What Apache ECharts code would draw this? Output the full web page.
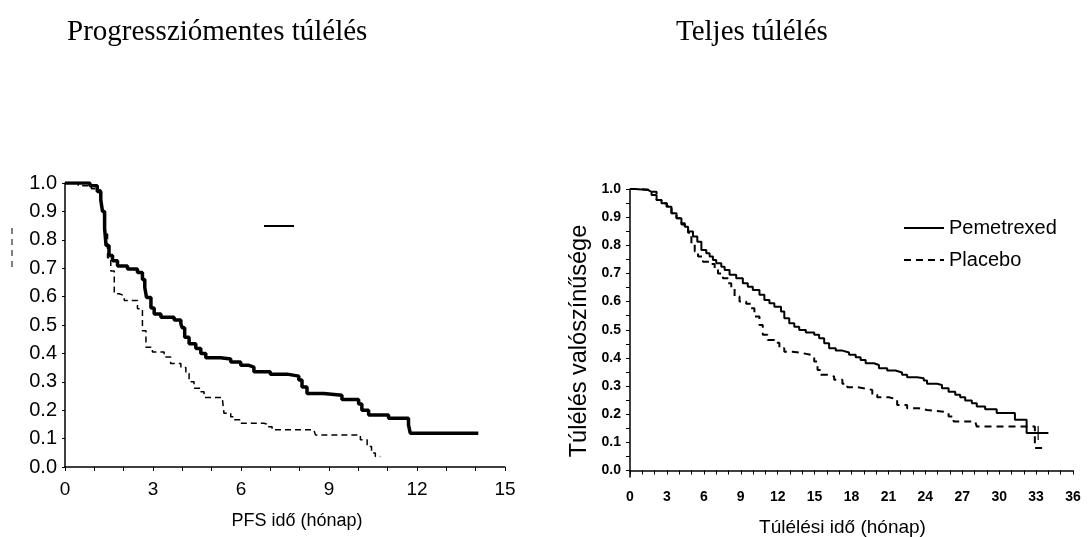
<!DOCTYPE html>
<html>
<head>
<meta charset="utf-8">
<script src="https://cdn.jsdelivr.net/npm/echarts@6/dist/echarts.min.js"></script>
<style>
  html, body { margin: 0; padding: 0; background: #fff; }
  #chart { width: 1091px; height: 537px; }
</style>
</head>
<body>
<div id="chart"></div>
<script>
// Kaplan-Meier curves: [months, survival probability]
var pfsPemetrexed = [
  [0, 1.0], [0.85, 0.99], [1.1, 0.97], [1.22, 0.94], [1.28, 0.90], [1.35, 0.84],
  [1.40, 0.78], [1.50, 0.745], [1.62, 0.726], [1.79, 0.708], [2.13, 0.697],
  [2.47, 0.685], [2.64, 0.66], [2.72, 0.632], [2.78, 0.597], [2.93, 0.56],
  [3.04, 0.539], [3.27, 0.527], [3.72, 0.518], [3.95, 0.504], [4.0, 0.49],
  [4.08, 0.457], [4.23, 0.434], [4.46, 0.417], [4.63, 0.40], [4.8, 0.385],
  [5.3, 0.38], [5.65, 0.37], [5.99, 0.358], [6.27, 0.352], [6.44, 0.335],
  [7.0, 0.327], [7.57, 0.32], [7.97, 0.306], [8.08, 0.282], [8.25, 0.259],
  [8.82, 0.253], [9.44, 0.238], [10.01, 0.222], [10.12, 0.20], [10.35, 0.183],
  [11.03, 0.172], [11.71, 0.148], [11.77, 0.119], [14.09, 0.119]
];
var pfsPlacebo = [
  [0, 1.0], [0.45, 0.99], [0.9, 0.98], [1.1, 0.975], [1.22, 0.95], [1.28, 0.90],
  [1.36, 0.82], [1.45, 0.737], [1.56, 0.69], [1.68, 0.61], [1.85, 0.603],
  [2.02, 0.586], [2.47, 0.557], [2.64, 0.48], [2.76, 0.422], [2.98, 0.405],
  [3.38, 0.387], [3.6, 0.364], [3.95, 0.35], [4.12, 0.329], [4.23, 0.30],
  [4.4, 0.277], [4.63, 0.265], [4.74, 0.245], [5.36, 0.242], [5.42, 0.189],
  [5.65, 0.177], [5.76, 0.166], [5.99, 0.154], [6.78, 0.151], [6.89, 0.142],
  [7.06, 0.131], [8.48, 0.128], [8.54, 0.113], [10.07, 0.096], [10.3, 0.072],
  [10.45, 0.049], [10.58, 0.037], [10.75, 0.037]
];
var osPemetrexed = [
  [0, 1.0], [0.4, 0.998], [0.94, 0.996], [1.48, 0.99], [1.75, 0.979], [2.16, 0.961],
  [2.56, 0.949], [2.97, 0.937], [3.37, 0.914], [3.78, 0.896], [4.18, 0.878],
  [4.45, 0.866], [4.72, 0.849], [5.12, 0.831], [5.47, 0.813], [5.8, 0.783],
  [6.2, 0.772], [6.47, 0.76], [6.74, 0.748], [7.01, 0.736], [7.42, 0.724],
  [7.69, 0.712], [8.09, 0.695], [8.63, 0.683], [9.17, 0.665], [9.57, 0.653],
  [9.98, 0.641], [10.52, 0.624], [10.92, 0.606], [11.33, 0.594], [11.73, 0.582],
  [12.27, 0.565], [12.54, 0.541], [12.94, 0.523], [13.35, 0.511], [13.75, 0.499],
  [14.29, 0.49], [14.97, 0.482], [15.37, 0.47], [15.78, 0.452], [16.18, 0.434],
  [16.72, 0.426], [17.26, 0.419], [17.8, 0.411], [18.34, 0.402], [18.74, 0.393],
  [19.15, 0.381], [19.82, 0.375], [20.23, 0.363], [20.9, 0.355], [21.57, 0.348],
  [22.11, 0.34], [22.52, 0.331], [23.33, 0.328], [23.87, 0.32], [24.14, 0.308],
  [24.95, 0.304], [25.35, 0.292], [25.89, 0.28], [26.43, 0.269], [26.83, 0.26],
  [27.24, 0.249], [27.78, 0.239], [28.18, 0.227], [28.86, 0.218], [29.8, 0.204],
  [31.28, 0.18], [32.23, 0.133], [34.0, 0.133]
];
var osPlacebo = [
  [0, 1.0], [0.4, 0.998], [1.48, 0.99], [2.16, 0.961], [2.56, 0.949], [3.0, 0.94],
  [3.37, 0.914], [3.78, 0.896], [4.18, 0.874], [4.45, 0.86], [4.72, 0.845],
  [4.99, 0.807], [5.26, 0.778], [5.53, 0.76], [5.93, 0.742], [6.47, 0.734],
  [6.88, 0.718], [7.15, 0.70], [7.55, 0.683], [7.96, 0.665], [8.23, 0.647],
  [8.5, 0.618], [8.9, 0.60], [9.44, 0.592], [9.84, 0.576], [10.11, 0.547],
  [10.52, 0.517], [10.79, 0.482], [11.19, 0.464], [11.73, 0.454], [12.14, 0.434],
  [12.54, 0.422], [13.21, 0.417], [14.02, 0.411], [14.7, 0.405], [14.97, 0.387],
  [15.24, 0.357], [15.51, 0.34], [16.05, 0.334], [16.59, 0.322], [17.26, 0.308],
  [17.66, 0.296], [18.47, 0.289], [19.42, 0.286], [19.69, 0.269], [20.09, 0.26],
  [21.04, 0.253], [21.71, 0.233], [22.52, 0.221], [23.46, 0.215], [24.14, 0.209],
  [25.49, 0.204], [25.89, 0.192], [26.3, 0.174], [28.05, 0.168], [28.18, 0.156],
  [32.9, 0.08], [33.5, 0.08]
];
var osCensored = [[33.17, 0.133]];

var pfsXTicks = [0, 3, 6, 9, 12, 15];
var osXTicks = [0, 3, 6, 9, 12, 15, 18, 21, 24, 27, 30, 33, 36];
var osYLabels = [0, 0.1, 0.2, 0.3, 0.4, 0.5, 0.6, 0.7, 0.8, 0.9, 1.0];
var osYTicks = [0, 0.05, 0.1, 0.15, 0.2, 0.25, 0.3, 0.35, 0.4, 0.45, 0.5,
                0.55, 0.6, 0.65, 0.7, 0.75, 0.8, 0.85, 0.9, 0.95, 1.0];

var SANS = "'Liberation Sans', Arial, sans-serif";
var SERIF = "'Liberation Serif', 'Times New Roman', serif";

var chart = echarts.init(document.getElementById("chart"), null, { renderer: "canvas" });

var axisLine = { show: true, lineStyle: { color: "#000", width: 1.5 } };

chart.setOption({
  animation: false,
  backgroundColor: "#fff",
  title: [
    { text: "Progressziómentes túlélés", left: 62, top: 13,
      textStyle: { fontFamily: SERIF, fontSize: 29, fontWeight: "normal", color: "#000" } },
    { text: "Teljes túlélés", left: 671, top: 13,
      textStyle: { fontFamily: SERIF, fontSize: 29, fontWeight: "normal", color: "#000" } }
  ],
  legend: [
    { // leftover legend stroke in the PFS panel
      data: ["PFS Pemetrexed"], left: 259, top: 220, icon: "rect",
      itemWidth: 30, itemHeight: 2, formatter: function () { return ""; },
      itemStyle: { color: "#000" }, selectedMode: false
    },
    {
      data: ["Pemetrexed", "Placebo"], orient: "vertical", left: 898, top: 213,
      itemWidth: 40, itemHeight: 14, itemGap: 12, selectedMode: false,
      itemStyle: { opacity: 0 },
      textStyle: { fontFamily: SANS, fontSize: 20, color: "#000" }
    }
  ],
  grid: [
    { left: 65, right: 586, top: 183, bottom: 70, outerBoundsMode: "none" },
    { left: 630, right: 18, top: 189, bottom: 60, outerBoundsMode: "none" }
  ],
  xAxis: [
    {
      gridIndex: 0, type: "value", min: 0, max: 15, interval: 3,
      name: "PFS idő (hónap)", nameLocation: "middle", nameGap: 45,
      nameTextStyle: { fontFamily: SANS, fontSize: 18, color: "#000", padding: [0, 0, 0, 24] },
      axisLine: axisLine,
      axisTick: { show: true, length: 4, inside: false, lineStyle: { color: "#000" } },
      minorTick: { show: true, splitNumber: 3, length: 4, lineStyle: { color: "#000" } },
      axisLabel: { fontFamily: SANS, fontSize: 19, color: "#000", margin: 13,
        formatter: function (v) { return pfsXTicks.indexOf(v) >= 0 ? String(v) : ""; } },
      splitLine: { show: false }
    },
    {
      gridIndex: 1, type: "value", min: 0, max: 36, interval: 3,
      name: "Túlélési idő (hónap)", nameLocation: "middle", nameGap: 41,
      nameTextStyle: { fontFamily: SANS, fontSize: 19, color: "#000", padding: [0, 18, 0, 0] },
      axisLine: axisLine,
      axisTick: { show: true, length: 4, lineStyle: { color: "#000" } },
      minorTick: { show: true, splitNumber: 3, length: 4, lineStyle: { color: "#000" } },
      axisLabel: { fontFamily: SANS, fontSize: 14, fontWeight: "bold", color: "#000", margin: 13,
        formatter: function (v) { return osXTicks.indexOf(v) >= 0 ? String(v) : ""; } },
      splitLine: { show: false }
    }
  ],
  yAxis: [
    {
      gridIndex: 0, type: "value", min: 0, max: 1, interval: 0.1,
      axisLine: axisLine,
      axisTick: { show: true, length: 3, lineStyle: { color: "#000" } },
      axisLabel: { fontFamily: SANS, fontSize: 20, color: "#000", margin: 8,
        formatter: function (v) { return v.toFixed(1); } },
      splitLine: { show: false }
    },
    {
      gridIndex: 1, type: "value", min: -0.023, max: 1,
      name: "Túlélés valószínűsége", nameLocation: "middle", nameGap: 38,
      nameTextStyle: { fontFamily: SANS, fontSize: 23.5, color: "#000", padding: [0, 16, 0, 0] },
      axisLine: axisLine,
      axisTick: { show: true, length: 4, customValues: osYTicks, lineStyle: { color: "#000" } },
      axisLabel: { fontFamily: SANS, fontSize: 14, fontWeight: "bold", color: "#000", margin: 9,
        customValues: osYLabels, formatter: function (v) { return v.toFixed(1); } },
      splitLine: { show: false }
    }
  ],
  series: [
    { name: "PFS Pemetrexed", type: "line", xAxisIndex: 0, yAxisIndex: 0, step: "end",
      symbol: "none", data: pfsPemetrexed, lineStyle: { color: "#000", width: 3.5 } },
    { name: "PFS Placebo", type: "line", xAxisIndex: 0, yAxisIndex: 0, step: "end",
      symbol: "none", data: pfsPlacebo, lineStyle: { color: "#000", width: 1.5, type: [6, 4] } },
    { name: "Pemetrexed", type: "line", xAxisIndex: 1, yAxisIndex: 1, step: "end",
      symbol: "none", data: osPemetrexed, itemStyle: { color: "#000" },
      lineStyle: { color: "#000", width: 2 } },
    { name: "Placebo", type: "line", xAxisIndex: 1, yAxisIndex: 1, step: "end",
      symbol: "none", data: osPlacebo, itemStyle: { color: "#000" },
      lineStyle: { color: "#000", width: 2, type: [7, 5] } },
    { name: "censored", type: "scatter", xAxisIndex: 1, yAxisIndex: 1, data: osCensored,
      symbol: "path://M5,0L5,10M0,5L10,5", symbolSize: 14,
      itemStyle: { color: "none", borderColor: "#000", borderWidth: 1.5 } }
  ],
  graphic: [
    { // fragment of a clipped vertical axis title at the left edge
      type: "line", shape: { x1: 12, y1: 228, x2: 12, y2: 268 },
      style: { stroke: "#000", lineWidth: 1, lineDash: [6, 5] }
    }
  ]
});
</script>
</body>
</html>
